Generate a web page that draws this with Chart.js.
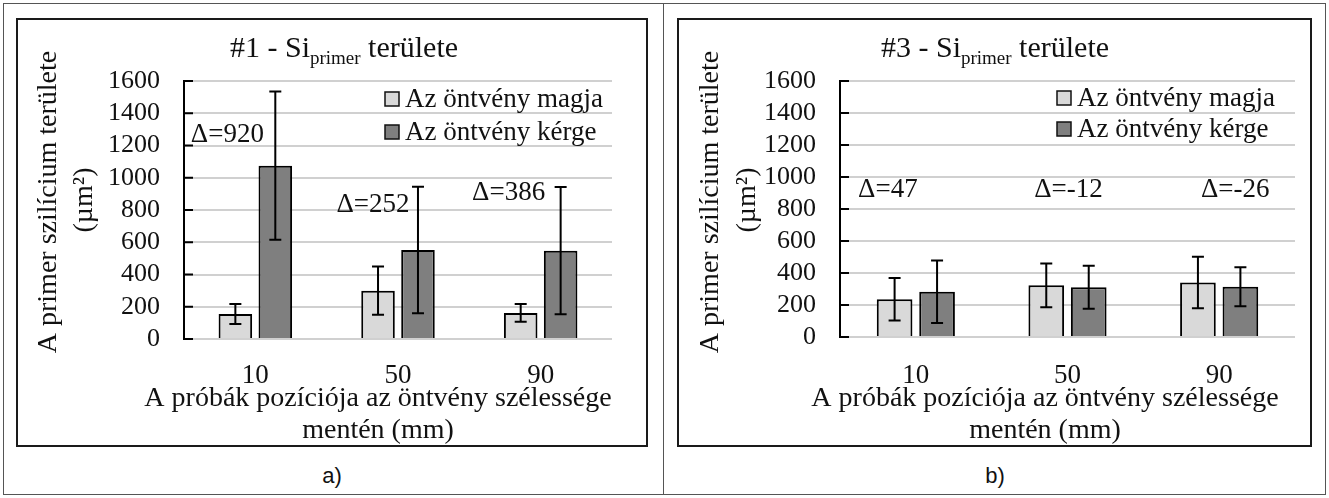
<!DOCTYPE html>
<html>
<head>
<meta charset="utf-8">
<script src="https://cdn.jsdelivr.net/npm/chart.js@4.4.1/dist/chart.umd.min.js"></script>
<style>
    body { margin: 0; background: #fff; }
    #frame { position: absolute; left: 3px; top: 3px; width: 1323px; height: 492px; border: 1px solid #555; box-sizing: border-box; }
    #divider { position: absolute; left: 663px; top: 3px; width: 1px; height: 492px; background: #555; }
    .panel { position: absolute; top: 18px; height: 429px; border: 2px solid #1a1a1a; box-sizing: border-box; background: #fff; }
    #panelA { left: 16px; width: 632px; }
    #panelB { left: 677px; width: 635px; }
    .panel canvas { position: absolute; left: 0; top: 0; }
    .cap { position: absolute; top: 463px; width: 100px; text-align: center; font: 22px 'Liberation Sans', Arial, sans-serif; color: #111; }
</style>
</head>
<body>
<div id="frame"></div>
<div id="divider"></div>
<div class="panel" id="panelA"><canvas id="chartA" width="628" height="425"></canvas></div>
<div class="panel" id="panelB"><canvas id="chartB" width="631" height="425"></canvas></div>
<div class="cap" style="left:282px">a)</div>
<div class="cap" style="left:945px">b)</div>
<script>
// adatok
const categories = ['10', '50', '90'];
const seriesNames = ['Az öntvény magja', 'Az öntvény kérge'];
const yTickValues = [0, 200, 400, 600, 800, 1000, 1200, 1400, 1600];

// #1 minta
const coreA = [155, 300, 162];
const coreErrA = [62, 150, 55];
const skinA = [1075, 552, 548];
const skinErrA = [460, 392, 395];
const deltaA = ['Δ=920', 'Δ=252', 'Δ=386'];

// #3 minta
const coreB = [236, 323, 340];
const coreErrB = [133, 137, 161];
const skinB = [283, 311, 314];
const skinErrB = [195, 134, 122];
const deltaB = ['Δ=47', 'Δ=-12', 'Δ=-26'];

const FONT = "'Liberation Serif', 'Times New Roman', serif";
const lightGrey = '#d9d9d9';
const darkGrey = '#7f7f7f';

// rajzolás: cím, tengelyfeliratok, jelmagyarázat, hibasávok, Δ feliratok
const decorPlugin = {
    id: 'decor',
    afterDatasetsDraw(chart, args, opts) {
        const ctx = chart.ctx;
        const y = chart.scales.y;
        const x = chart.scales.x;
        const area = chart.chartArea;
        ctx.save();
        ctx.strokeStyle = '#000';
        ctx.lineWidth = 2;
        // hibasávok
        chart.data.datasets.forEach((ds, di) => {
            chart.getDatasetMeta(di).data.forEach((bar, i) => {
                const top = y.getPixelForValue(ds.data[i] + ds.errors[i]);
                const bot = y.getPixelForValue(ds.data[i] - ds.errors[i]);
                ctx.beginPath();
                ctx.moveTo(bar.x, top); ctx.lineTo(bar.x, bot);
                ctx.moveTo(bar.x - 6, top); ctx.lineTo(bar.x + 6, top);
                ctx.moveTo(bar.x - 6, bot); ctx.lineTo(bar.x + 6, bot);
                ctx.stroke();
            });
        });
        // belső osztásjelek
        y.ticks.forEach(t => {
            const py = y.getPixelForValue(t.value);
            ctx.beginPath();
            ctx.moveTo(area.left, py); ctx.lineTo(area.left + 9, py);
            ctx.stroke();
        });
        // Δ feliratok
        ctx.fillStyle = '#111';
        ctx.font = '27px ' + FONT;
        ctx.textAlign = 'center';
        ctx.textBaseline = 'middle';
        opts.deltas.forEach((txt, i) => {
            ctx.fillText(txt, x.getPixelForValue(i) + opts.deltaDx[i], y.getPixelForValue(opts.deltaY[i]));
        });
        ctx.restore();
    },
    afterDraw(chart, args, opts) {
        const ctx = chart.ctx;
        ctx.save();
        ctx.fillStyle = '#111';
        ctx.textBaseline = 'alphabetic';
        ctx.textAlign = 'left';
        // cím alsó indexszel
        const bigF = '30px ' + FONT, subF = '19px ' + FONT;
        ctx.font = bigF;
        const w1 = ctx.measureText(opts.title[0]).width;
        const w3 = ctx.measureText(opts.title[2]).width;
        ctx.font = subF;
        const w2 = ctx.measureText(opts.title[1]).width;
        let tx = opts.titleX - (w1 + w2 + w3) / 2;
        ctx.font = bigF;
        ctx.fillText(opts.title[0], tx, 37);
        ctx.font = subF;
        ctx.fillText(opts.title[1], tx + w1, 44);
        ctx.font = bigF;
        ctx.fillText(opts.title[2], tx + w1 + w2, 37);

        // x tengely címe
        ctx.font = '28px ' + FONT;
        ctx.textAlign = 'center';
        ctx.textBaseline = 'middle';
        ctx.fillText('A próbák pozíciója az öntvény szélessége', opts.xTitleX, 379);
        ctx.fillText('mentén (mm)', opts.xTitleX, 411);

        // y tengely címe
        ctx.save();
        ctx.translate(opts.yTitleX[0], 182);
        ctx.rotate(-Math.PI / 2);
        ctx.fillText('A primer szilícium területe', 0, 0);
        ctx.restore();
        ctx.save();
        ctx.translate(opts.yTitleX[1], 180);
        ctx.rotate(-Math.PI / 2);
        ctx.fillText('(µm²)', 0, 0);
        ctx.restore();

        // jelmagyarázat
        ctx.font = '27px ' + FONT;
        ctx.textAlign = 'left';
        chart.data.datasets.forEach((ds, i) => {
            const ly = opts.legendY[i];
            ctx.fillStyle = ds.backgroundColor;
            ctx.fillRect(opts.legendX, ly - 7, 14, 14);
            ctx.strokeStyle = '#111';
            ctx.lineWidth = 1.5;
            ctx.strokeRect(opts.legendX, ly - 7, 14, 14);
            ctx.fillStyle = '#111';
            ctx.fillText(ds.label, opts.legendX + 20, ly + 1);
        });
        ctx.restore();
    }
};

function makeChart(id, core, coreErr, skin, skinErr, layout) {
    const area = layout.area;
    return new Chart(document.getElementById(id), {
        type: 'bar',
        data: {
            labels: categories,
            datasets: [{
                label: seriesNames[0],
                data: core,
                errors: coreErr,
                backgroundColor: lightGrey,
                borderColor: '#000',
                borderWidth: 2
            }, {
                label: seriesNames[1],
                data: skin,
                errors: skinErr,
                backgroundColor: darkGrey,
                borderColor: '#000',
                borderWidth: 2
            }]
        },
        options: {
            responsive: false,
            devicePixelRatio: 1,
            animation: false,
            categoryPercentage: 0.56,
            barPercentage: 0.84,
            layout: {
                padding: { left: 0, top: area.top, right: layout.w - area.right, bottom: 0 }
            },
            plugins: {
                legend: { display: false },
                tooltip: { enabled: false },
                decor: layout.decor
            },
            scales: {
                x: {
                    grid: { display: false },
                    border: { display: false },
                    ticks: {
                        color: '#111',
                        padding: layout.tickPad,
                        font: { family: FONT, size: 27 }
                    },
                    afterFit: s => { s.height = layout.h - area.bottom; }
                },
                y: {
                    min: yTickValues[0],
                    max: yTickValues[yTickValues.length - 1],
                    afterBuildTicks: s => { s.ticks = yTickValues.map(v => ({ value: v })); },
                    grid: { color: '#d0d0d0', lineWidth: 2, drawTicks: false },
                    border: { display: true, color: '#000', width: 2 },
                    ticks: {
                        color: '#111',
                        padding: 24,
                        autoSkip: false,
                        callback: v => String(v),
                        font: { family: FONT, size: 26 }
                    },
                    afterFit: s => { s.width = area.left; }
                }
            }
        },
        plugins: [decorPlugin]
    });
}

makeChart('chartA', coreA, coreErrA, skinA, skinErrA, {
    w: 628, h: 425,
    area: { left: 166, right: 594, top: 61, bottom: 319 },
    tickPad: 13,
    decor: {
        title: ['#1 - Si', 'primer', ' területe'],
        titleX: 326, xTitleX: 360, yTitleX: [31, 67],
        legendX: 367, legendY: [79, 112],
        deltas: deltaA, deltaDx: [-28, -25, -32], deltaY: [1265, 830, 905]
    }
});

makeChart('chartB', coreB, coreErrB, skinB, skinErrB, {
    w: 631, h: 425,
    area: { left: 161, right: 616, top: 61, bottom: 317 },
    tickPad: 15,
    decor: {
        title: ['#3 - Si', 'primer', ' területe'],
        titleX: 316, xTitleX: 366, yTitleX: [32, 69],
        legendX: 378, legendY: [78, 109],
        deltas: deltaB, deltaDx: [-28, 1, 16], deltaY: [919, 919, 919]
    }
});
</script>
</body>
</html>
